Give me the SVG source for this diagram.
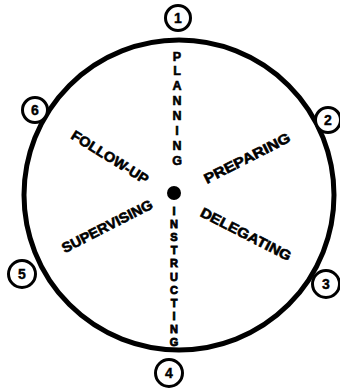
<svg xmlns="http://www.w3.org/2000/svg" width="340" height="389" viewBox="0 0 340 389">
<style>
.t{font-family:"Liberation Sans",Arial,sans-serif;font-weight:bold;font-size:14px;fill:#000;stroke:#000;stroke-width:0.6}
.v{text-anchor:middle}
.p{font-size:12.5px}
.i{font-size:11px;stroke-width:0.8}
.n{font-family:"Liberation Sans",Arial,sans-serif;font-weight:bold;font-size:14px;fill:#000;text-anchor:middle;stroke:#000;stroke-width:0.4}
.sc{fill:#fff;stroke:#000;stroke-width:3}
</style>
<rect width="340" height="389" fill="#fff"/>
<g id="connectors">
<circle cx="179" cy="195" r="155" fill="none" stroke="#000" stroke-width="5"/>
</g>
<g id="center"><circle cx="174" cy="193" r="7" fill="#000"/></g>
<g id="n1"><circle class="sc" cx="178" cy="18" r="12.5"/><text class="n" x="178" y="23">1</text></g>
<g id="n2"><circle class="sc" cx="328" cy="120" r="12.5"/><text class="n" x="328" y="125">2</text></g>
<g id="n3"><circle class="sc" cx="326" cy="284" r="13.5"/><text class="n" x="326" y="289">3</text></g>
<g id="n4"><circle class="sc" cx="169" cy="373" r="13.5"/><text class="n" x="169" y="378">4</text></g>
<g id="n5"><circle class="sc" cx="22" cy="274" r="13.5"/><text class="n" x="22" y="279">5</text></g>
<g id="n6"><circle class="sc" cx="35" cy="110" r="12.5"/><text class="n" x="35" y="115">6</text></g>
<g id="planning"><text class="t v p">
<tspan x="177" y="60.5">P</tspan><tspan x="177" y="75.3">L</tspan><tspan x="177" y="90.2">A</tspan><tspan x="177" y="105">N</tspan><tspan x="177" y="119.9">N</tspan><tspan x="177" y="134.8">I</tspan><tspan x="177" y="149.6">N</tspan><tspan x="177" y="164.5">G</tspan>
</text></g>
<g id="instructing"><text class="t v i">
<tspan x="174" y="215">I</tspan><tspan x="174" y="228.1">N</tspan><tspan x="174" y="241.2">S</tspan><tspan x="174" y="254.3">T</tspan><tspan x="174" y="267.4">R</tspan><tspan x="174" y="280.5">U</tspan><tspan x="174" y="293.6">C</tspan><tspan x="174" y="306.7">T</tspan><tspan x="174" y="319.8">I</tspan><tspan x="174" y="332.9">N</tspan><tspan x="174" y="346">G</tspan>
</text></g>
<g id="followup"><text class="t v" transform="translate(110,157) rotate(32)" y="5" textLength="88" lengthAdjust="spacingAndGlyphs">FOLLOW-UP</text></g>
<g id="preparing"><text class="t v" transform="translate(247,158) rotate(-27)" y="5" textLength="95" lengthAdjust="spacingAndGlyphs">PREPARING</text></g>
<g id="supervising"><text class="t v" transform="translate(107,226) rotate(-27)" y="5" textLength="100" lengthAdjust="spacingAndGlyphs">SUPERVISING</text></g>
<g id="delegating"><text class="t v" transform="translate(246,234) rotate(27)" y="5" textLength="100" lengthAdjust="spacingAndGlyphs">DELEGATING</text></g>
</svg>
